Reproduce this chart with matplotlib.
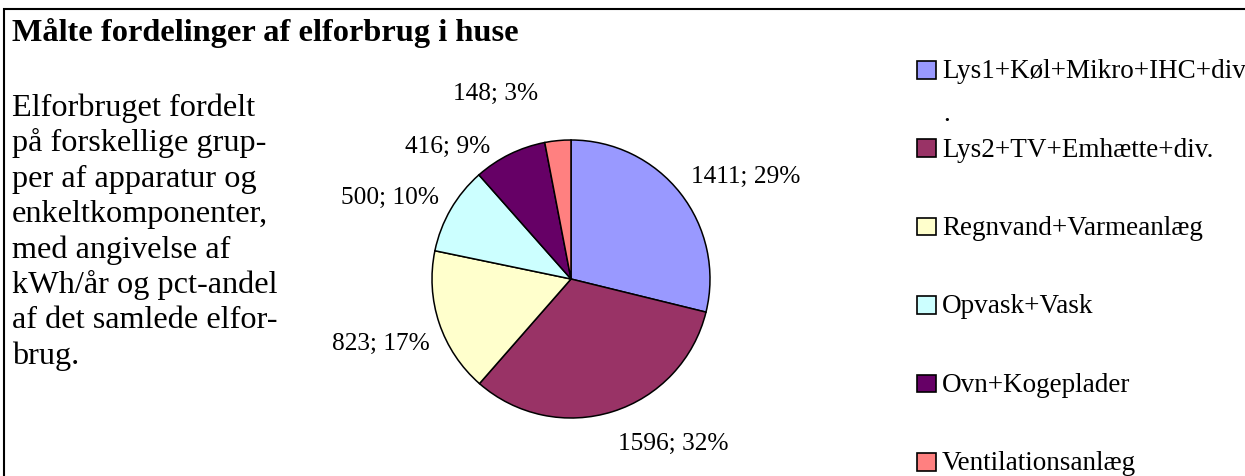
import matplotlib
matplotlib.use("Agg")
import matplotlib.pyplot as plt
from matplotlib.patches import Rectangle

# ---- data ----
categories = ["Lys1+Køl+Mikro+IHC+div.", "Lys2+TV+Emhætte+div.", "Regnvand+Varmeanlæg",
              "Opvask+Vask", "Ovn+Kogeplader", "Ventilationsanlæg"]
values_kwh = [1411, 1596, 823, 500, 416, 148]
pct_labels = [29, 32, 17, 10, 9, 3]
title = "Målte fordelinger af elforbrug i huse"
body_lines = ["Elforbruget fordelt", "på forskellige grup-", "per af apparatur og",
              "enkeltkomponenter,", "med angivelse af", "kWh/år og pct-andel",
              "af det samlede elfor-", "brug."]

# ---- style ----
colors = ["#9999FF", "#993366", "#FFFFCC", "#CCFFFF", "#660066", "#FF8080"]
# label anchor (x centre, baseline) in pie-radius units
label_pos = [(1.259, 0.698), (0.734, -1.223), (-1.367, -0.504),
             (-1.302, 0.547), (-0.885, 0.914), (-0.540, 1.295)]

W, H = 1245, 477
plt.rcParams['font.family'] = ['Liberation Serif', 'DejaVu Serif']
fig = plt.figure(figsize=(W / 100, H / 100), dpi=100)
fig.patch.set_facecolor("white")


def fx(x):
    return x / W


def fy(y):
    return 1 - y / H


# border
fig.patches.append(Rectangle((fx(3.7), fy(490)), fx(1260), 480 / H, transform=fig.transFigure,
                             fill=False, edgecolor="black", linewidth=1.5))

# title and body
fig.text(fx(12), fy(41), title, fontsize=23.3, fontweight="bold", va="baseline", ha="left")
for i, line in enumerate(body_lines):
    fig.text(fx(12), fy(116 + 35.4 * i), line, fontsize=23.2, va="baseline", ha="left")

# pie
cx, cy, R = 571, 280, 139
ax = fig.add_axes([fx(cx - R), fy(cy + R), 2 * R / W, 2 * R / H])
ax.pie(values_kwh, colors=colors, startangle=90, counterclock=False, radius=1,
       wedgeprops=dict(edgecolor="black", linewidth=1.1))
ax.set_xlim(-1, 1)
ax.set_ylim(-1, 1)
ax.set_aspect("equal")
ax.axis("off")
for v, p, (lx, ly) in zip(values_kwh, pct_labels, label_pos):
    ax.text(lx, ly, f"{v}; {p}%", fontsize=18.3, ha="center", va="baseline", clip_on=False)

# legend
leg_y0, leg_dy = 70.8, 78.4
for i, (cat, col) in enumerate(zip(categories, colors)):
    yc = leg_y0 + leg_dy * i
    fig.patches.append(Rectangle((fx(917.5), fy(yc + 8.7)), 18.5 / W, 17.5 / H, transform=fig.transFigure,
                                 facecolor=col, edgecolor="black", linewidth=1.2))
    if i == 0:
        fig.text(fx(942), fy(yc + 7.5), cat[:-1], fontsize=19.5, va="baseline", ha="left")
        fig.text(fx(943), fy(yc + 50), cat[-1], fontsize=19.5, va="baseline", ha="left")
    else:
        fig.text(fx(942), fy(yc + 7.5), cat, fontsize=19.5, va="baseline", ha="left")

fig.savefig("out.png", dpi=100, facecolor="white")
